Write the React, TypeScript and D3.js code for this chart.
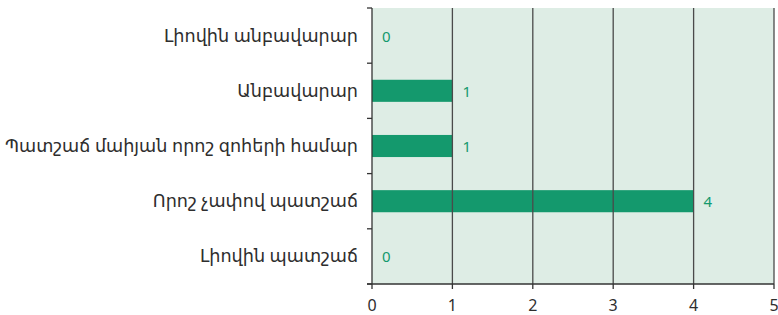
import { useEffect, useRef } from 'react'
import * as d3 from 'd3'

const categories = [
  'Լիովին անբավարար',
  'Անբավարար',
  'Պատշաճ մաիյան որոշ զոհերի համար',
  'Որոշ չափով պատշաճ',
  'Լիովին պատշաճ'
]
const values = [0, 1, 1, 4, 0]
const xTicks = [0, 1, 2, 3, 4, 5]

export default function App() {
  const svgRef = useRef<SVGSVGElement>(null)

  useEffect(() => {
    if (!svgRef.current) return
    document.body.style.margin = '0'
    const svg = d3.select(svgRef.current)
    svg.selectAll('*').remove()

    const width = 778
    const height = 315
    const margin = { top: 8, right: 4, bottom: 31, left: 372 }
    const w = width - margin.left - margin.right
    const h = height - margin.top - margin.bottom
    const font = '"Noto Sans", "DejaVu Sans", sans-serif'

    const x = d3.scaleLinear().domain([0, 5]).range([0, w])
    const y = d3.scaleBand().domain(categories).range([0, h]).paddingInner(0.6).paddingOuter(0.3)

    const g = svg.append('g').attr('transform', `translate(${margin.left},${margin.top})`)

    // background
    g.append('rect')
      .attr('x', 0)
      .attr('y', 0)
      .attr('width', w)
      .attr('height', h)
      .attr('fill', '#deede5')

    // bars
    g.selectAll('.bar')
      .data(values)
      .enter()
      .append('rect')
      .attr('x', 0)
      .attr('y', (d, i) => y(categories[i]) as number)
      .attr('width', d => x(d))
      .attr('height', y.bandwidth())
      .attr('fill', '#14996d')

    // grid lines
    g.selectAll('.grid')
      .data(xTicks.slice(1))
      .enter()
      .append('line')
      .attr('x1', d => x(d))
      .attr('x2', d => x(d))
      .attr('y1', 0)
      .attr('y2', h)
      .attr('stroke', '#4a4a4a')
      .attr('stroke-width', 1.3)

    // value labels
    g.selectAll('.val')
      .data(values)
      .enter()
      .append('text')
      .attr('x', d => x(d) + 10)
      .attr('y', (d, i) => (y(categories[i]) as number) + y.bandwidth() / 2 + 6)
      .attr('fill', '#14996d')
      .style('font-family', font)
      .style('font-size', '15px')
      .text(d => d)

    // y axis
    const step = y.step()
    const yBounds = d3.range(categories.length + 1).map(i => i * step)
    g.append('line')
      .attr('x1', 0)
      .attr('x2', 0)
      .attr('y1', 0)
      .attr('y2', h)
      .attr('stroke', '#333')
      .attr('stroke-width', 1.3)
    g.selectAll('.ytick')
      .data(yBounds)
      .enter()
      .append('line')
      .attr('x1', -5)
      .attr('x2', 0)
      .attr('y1', d => d)
      .attr('y2', d => d)
      .attr('stroke', '#333')
      .attr('stroke-width', 1.3)

    g.selectAll('.ylabel')
      .data(categories)
      .enter()
      .append('text')
      .attr('x', -14)
      .attr('y', d => (y(d) as number) + y.bandwidth() / 2 + 6)
      .attr('text-anchor', 'end')
      .attr('fill', '#2e2e2e')
      .style('font-family', font)
      .style('font-size', '17.6px')
      .text(d => d)

    // x axis
    g.append('line')
      .attr('x1', -5)
      .attr('x2', w)
      .attr('y1', h)
      .attr('y2', h)
      .attr('stroke', '#333')
      .attr('stroke-width', 1.3)
    g.selectAll('.xtick')
      .data(xTicks)
      .enter()
      .append('line')
      .attr('x1', d => x(d))
      .attr('x2', d => x(d))
      .attr('y1', h)
      .attr('y2', h + 5)
      .attr('stroke', '#333')
      .attr('stroke-width', 1.3)
    g.selectAll('.xlabel')
      .data(xTicks)
      .enter()
      .append('text')
      .attr('x', d => x(d))
      .attr('y', h + 27)
      .attr('text-anchor', 'middle')
      .attr('fill', '#2e2e2e')
      .style('font-family', font)
      .style('font-size', '16px')
      .text(d => d)
  }, [])

  return <svg ref={svgRef} width={778} height={315} style={{ display: 'block' }} />
}
